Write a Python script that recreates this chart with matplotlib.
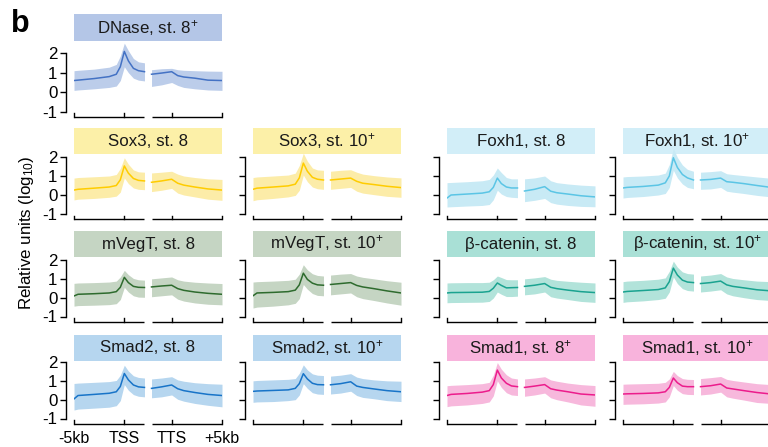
import matplotlib
matplotlib.use('Agg')
import matplotlib.pyplot as plt
from matplotlib.patches import Rectangle

plt.rcParams['font.family'] = ['Liberation Sans', 'DejaVu Sans']
plt.rcParams['axes.unicode_minus'] = False
plt.rcParams['mathtext.default'] = 'regular'

# x positions: left window (-5kb .. TSS .. into gene), right window (gene end .. TTS .. +5kb)
left_x = [-5, -4.6, -3, -1.5, -0.8, -0.4, 0, 0.4, 0.9, 1.4, 2]
right_x = [2.7, 3.7, 4.7, 5.3, 5.9, 7.0, 8.3, 9.7]
x_ticks = [-5, 0, 4.7, 9.7]
x_labels = ['-5kb', 'TSS', 'TTS', '+5kb']
y_ticks = [-1, 0, 1, 2]

titles = ['DNase, st. 8$^{+}$',
          'Sox3, st. 8', 'Sox3, st. 10$^{+}$', 'Foxh1, st. 8', 'Foxh1, st. 10$^{+}$',
          'mVegT, st. 8', 'mVegT, st. 10$^{+}$', 'β-catenin, st. 8', 'β-catenin, st. 10$^{+}$',
          'Smad2, st. 8', 'Smad2, st. 10$^{+}$', 'Smad1, st. 8$^{+}$', 'Smad1, st. 10$^{+}$']
grid = [(0, 0),
        (1, 0), (1, 1), (1, 2), (1, 3),
        (2, 0), (2, 1), (2, 2), (2, 3),
        (3, 0), (3, 1), (3, 2), (3, 3)]

head_colors = ['#b4c6e7',
               '#fcf0a8', '#fcf0a8', '#d2eef8', '#d2eef8',
               '#c5d5c3', '#c5d5c3', '#a9e0d6', '#a9e0d6',
               '#b6d6ef', '#b6d6ef', '#f8b3dc', '#f8b3dc']
band_colors = ['#bccdea',
               '#fcecA8', '#fcecA8', '#c8eaf5', '#c8eaf5',
               '#c5d5c3', '#c5d5c3', '#b2e3da', '#b2e3da',
               '#b6d6ef', '#b6d6ef', '#f7b8dc', '#f7b8dc']
line_colors = ['#4472c4',
               '#ffcc00', '#ffcc00', '#5bc5e5', '#5bc5e5',
               '#2e6b2e', '#2e6b2e', '#1aa390', '#1aa390',
               '#1874c8', '#1874c8', '#ec1c8c', '#ec1c8c']

mid_left = [
    [0.60, 0.62, 0.70, 0.80, 0.92, 1.30, 2.08, 1.60, 1.22, 1.10, 1.05],
    [0.26, 0.30, 0.36, 0.42, 0.50, 0.80, 1.53, 1.15, 0.87, 0.77, 0.74],
    [0.30, 0.36, 0.42, 0.48, 0.57, 0.90, 1.68, 1.25, 0.93, 0.83, 0.79],
    [-0.16, 0.00, 0.05, 0.10, 0.17, 0.40, 0.89, 0.60, 0.42, 0.37, 0.37],
    [0.37, 0.40, 0.45, 0.52, 0.64, 1.00, 1.96, 1.45, 1.08, 0.90, 0.79],
    [0.09, 0.18, 0.21, 0.25, 0.32, 0.55, 1.08, 0.80, 0.60, 0.55, 0.54],
    [0.10, 0.25, 0.28, 0.32, 0.40, 0.68, 1.30, 0.97, 0.77, 0.68, 0.66],
    [0.25, 0.27, 0.28, 0.29, 0.33, 0.50, 0.78, 0.65, 0.52, 0.53, 0.54],
    [0.30, 0.33, 0.38, 0.43, 0.52, 0.85, 1.57, 1.20, 0.93, 0.83, 0.80],
    [0.04, 0.22, 0.28, 0.34, 0.42, 0.70, 1.39, 1.05, 0.78, 0.68, 0.65],
    [0.44, 0.46, 0.49, 0.52, 0.60, 0.85, 1.38, 1.10, 0.87, 0.80, 0.79],
    [0.22, 0.28, 0.33, 0.40, 0.48, 0.80, 1.57, 1.15, 0.87, 0.73, 0.69],
    [0.30, 0.31, 0.33, 0.36, 0.42, 0.65, 1.15, 0.90, 0.72, 0.69, 0.69],
]
hi_left = [
    [1.10, 1.12, 1.18, 1.28, 1.42, 1.85, 2.50, 2.12, 1.72, 1.55, 1.50],
    [0.89, 0.92, 0.96, 1.00, 1.08, 1.40, 1.96, 1.62, 1.32, 1.22, 1.20],
    [0.92, 0.95, 1.00, 1.05, 1.15, 1.55, 2.20, 1.78, 1.42, 1.32, 1.30],
    [0.65, 0.66, 0.70, 0.75, 0.82, 1.05, 1.42, 1.18, 0.92, 0.85, 0.85],
    [0.95, 0.97, 1.00, 1.05, 1.15, 1.60, 2.45, 1.98, 1.58, 1.35, 1.25],
    [0.76, 0.78, 0.80, 0.83, 0.88, 1.10, 1.45, 1.22, 1.02, 0.95, 0.93],
    [0.83, 0.85, 0.88, 0.92, 0.98, 1.25, 1.75, 1.48, 1.27, 1.18, 1.15],
    [0.78, 0.79, 0.80, 0.80, 0.82, 0.95, 1.15, 1.07, 0.96, 0.95, 0.95],
    [0.85, 0.88, 0.92, 0.98, 1.05, 1.40, 1.94, 1.62, 1.37, 1.28, 1.25],
    [0.86, 0.88, 0.92, 0.96, 1.02, 1.30, 1.83, 1.52, 1.27, 1.18, 1.15],
    [1.00, 1.02, 1.05, 1.08, 1.12, 1.40, 1.85, 1.58, 1.37, 1.30, 1.28],
    [0.74, 0.76, 0.80, 0.85, 0.92, 1.30, 1.97, 1.62, 1.32, 1.15, 1.10],
    [0.82, 0.83, 0.85, 0.87, 0.92, 1.10, 1.50, 1.28, 1.12, 1.08, 1.07],
]
lo_left = [
    [0.10, 0.12, 0.18, 0.25, 0.32, 0.60, 1.30, 1.00, 0.72, 0.62, 0.58],
    [-0.26, -0.22, -0.18, -0.12, -0.06, 0.15, 0.90, 0.60, 0.37, 0.30, 0.28],
    [-0.30, -0.25, -0.18, -0.10, -0.02, 0.25, 1.05, 0.70, 0.42, 0.33, 0.30],
    [-0.63, -0.62, -0.58, -0.55, -0.50, -0.25, 0.25, 0.05, -0.08, -0.12, -0.14],
    [-0.16, -0.13, -0.08, 0.00, 0.08, 0.40, 1.30, 0.90, 0.58, 0.40, 0.33],
    [-0.45, -0.42, -0.40, -0.37, -0.32, -0.10, 0.55, 0.30, 0.10, 0.03, 0.02],
    [-0.55, -0.50, -0.45, -0.38, -0.30, -0.05, 0.70, 0.45, 0.22, 0.12, 0.10],
    [-0.27, -0.26, -0.25, -0.24, -0.20, -0.02, 0.30, 0.18, 0.06, 0.06, 0.08],
    [-0.25, -0.22, -0.17, -0.10, -0.03, 0.30, 1.10, 0.75, 0.48, 0.38, 0.35],
    [-0.55, -0.50, -0.45, -0.40, -0.32, -0.05, 0.80, 0.50, 0.27, 0.18, 0.15],
    [-0.14, -0.12, -0.10, -0.05, 0.00, 0.25, 0.85, 0.60, 0.37, 0.30, 0.28],
    [-0.37, -0.33, -0.28, -0.20, -0.12, 0.20, 1.00, 0.65, 0.37, 0.25, 0.22],
    [-0.25, -0.24, -0.22, -0.18, -0.12, 0.15, 0.75, 0.50, 0.32, 0.28, 0.27],
]
mid_right = [
    [0.92, 0.98, 1.05, 0.85, 0.78, 0.72, 0.62, 0.60],
    [0.67, 0.74, 0.83, 0.62, 0.52, 0.42, 0.32, 0.26],
    [0.79, 0.84, 0.89, 0.72, 0.62, 0.55, 0.46, 0.39],
    [0.21, 0.30, 0.44, 0.20, 0.12, 0.05, -0.04, -0.10],
    [0.79, 0.82, 0.89, 0.70, 0.67, 0.60, 0.50, 0.40],
    [0.57, 0.62, 0.66, 0.48, 0.39, 0.30, 0.23, 0.18],
    [0.70, 0.75, 0.80, 0.65, 0.57, 0.48, 0.36, 0.25],
    [0.60, 0.66, 0.75, 0.55, 0.48, 0.40, 0.32, 0.27],
    [0.75, 0.80, 0.88, 0.68, 0.60, 0.52, 0.42, 0.36],
    [0.60, 0.68, 0.78, 0.58, 0.48, 0.38, 0.28, 0.22],
    [0.79, 0.85, 0.95, 0.72, 0.65, 0.57, 0.48, 0.42],
    [0.65, 0.72, 0.80, 0.58, 0.51, 0.42, 0.30, 0.25],
    [0.69, 0.74, 0.83, 0.62, 0.57, 0.48, 0.38, 0.30],
]
hi_right = [
    [1.15, 1.20, 1.22, 1.15, 1.12, 1.10, 1.08, 1.07],
    [1.16, 1.20, 1.25, 1.10, 1.00, 0.92, 0.85, 0.82],
    [1.25, 1.30, 1.33, 1.20, 1.10, 1.02, 0.95, 0.90],
    [0.85, 0.90, 1.00, 0.75, 0.65, 0.58, 0.52, 0.48],
    [1.20, 1.23, 1.28, 1.12, 1.08, 1.02, 0.95, 0.88],
    [1.00, 1.05, 1.10, 0.95, 0.88, 0.82, 0.78, 0.75],
    [1.20, 1.25, 1.28, 1.15, 1.08, 1.00, 0.90, 0.82],
    [1.00, 1.05, 1.12, 0.98, 0.92, 0.87, 0.82, 0.78],
    [1.15, 1.20, 1.28, 1.10, 1.02, 0.95, 0.88, 0.85],
    [1.10, 1.15, 1.22, 1.05, 0.98, 0.90, 0.85, 0.82],
    [1.25, 1.30, 1.38, 1.20, 1.12, 1.05, 1.00, 0.98],
    [1.10, 1.15, 1.22, 1.05, 0.98, 0.88, 0.80, 0.75],
    [1.12, 1.17, 1.23, 1.08, 1.02, 0.94, 0.85, 0.80],
]
lo_right = [
    [0.30, 0.38, 0.50, 0.35, 0.25, 0.18, 0.12, 0.10],
    [0.18, 0.25, 0.35, 0.10, 0.00, -0.10, -0.22, -0.28],
    [0.30, 0.35, 0.40, 0.20, 0.10, 0.02, -0.07, -0.12],
    [-0.35, -0.28, -0.18, -0.40, -0.48, -0.55, -0.60, -0.62],
    [0.30, 0.32, 0.40, 0.20, 0.15, 0.08, -0.02, -0.10],
    [0.05, 0.10, 0.15, -0.08, -0.18, -0.28, -0.35, -0.38],
    [0.15, 0.20, 0.25, 0.05, -0.05, -0.15, -0.28, -0.40],
    [0.15, 0.20, 0.30, 0.05, -0.02, -0.10, -0.20, -0.25],
    [0.30, 0.35, 0.42, 0.20, 0.10, 0.00, -0.10, -0.15],
    [0.10, 0.15, 0.25, 0.02, -0.08, -0.20, -0.30, -0.38],
    [0.30, 0.35, 0.45, 0.22, 0.12, 0.05, -0.05, -0.10],
    [0.18, 0.25, 0.35, 0.10, 0.00, -0.12, -0.28, -0.35],
    [0.25, 0.30, 0.40, 0.15, 0.08, -0.02, -0.15, -0.20],
]

# layout in pixels
W, H = 768, 447
col_left = [74, 253, 447, 623]
data_w = 148
# (pixel of y=2, pixel of y=-1, header top, header bottom) per row
rows = [(53, 112, 14, 41), (157, 214, 128, 154), (260, 316.5, 231, 257), (362, 418.5, 335, 361)]
xmin, xmax = -5, 9.7

fig = plt.figure(figsize=(7.68, 4.47), dpi=100)

for i, title in enumerate(titles):
    r, c = grid[i]
    y2, ym1, htop, hbot = rows[r]
    u = (ym1 - y2) / 3.0
    ytop = 2 + (y2 - htop) / u
    hlow = 2 + (y2 - hbot) / u
    ax = fig.add_axes([col_left[c] / W, 1 - ym1 / H, data_w / W, (ym1 - htop) / H])
    ax.set_xlim(xmin, xmax)
    ax.set_ylim(-1, ytop)

    # header box
    ax.add_patch(Rectangle((xmin, hlow), xmax - xmin, ytop - hlow,
                           facecolor=head_colors[i], lw=0, zorder=0, clip_on=False))
    ax.text((xmin + xmax) / 2, (hlow + ytop) / 2, title, ha='center', va='center',
            fontsize=12.2, color='#1a1a1a', zorder=3)

    ax.fill_between(left_x, lo_left[i], hi_left[i], color=band_colors[i], lw=0, zorder=1)
    ax.plot(left_x, mid_left[i], color=line_colors[i], lw=1.1, zorder=2)
    ax.fill_between(right_x, lo_right[i], hi_right[i], color=band_colors[i], lw=0, zorder=1)
    ax.plot(right_x, mid_right[i], color=line_colors[i], lw=1.1, zorder=2)

    for s in ['top', 'right', 'bottom']:
        ax.spines[s].set_visible(False)
    ax.spines['left'].set_bounds(-1, 2)
    ax.spines['left'].set_position(('outward', 6))
    ax.spines['left'].set_linewidth(1.0)
    ax.set_yticks(y_ticks)
    ax.tick_params(axis='y', length=4, width=1.0, direction='out', labelsize=12.2, pad=2)
    if c != 0:
        ax.set_yticklabels([])

    # split x axis, ticks pointing up
    yb = -1 - 5 / u
    tl = 3.5 / u
    ax.plot([-5, 2], [yb, yb], color='k', lw=1.0, clip_on=False, solid_capstyle='butt')
    ax.plot([2.7, 9.7], [yb, yb], color='k', lw=1.0, clip_on=False, solid_capstyle='butt')
    for xt in x_ticks:
        ax.plot([xt, xt], [yb, yb + tl], color='k', lw=1.0, clip_on=False)

    if r == 3 and c == 0:
        ax.set_xticks(x_ticks, x_labels)
        ax.tick_params(axis='x', length=0, pad=9, labelsize=11.5)
    else:
        ax.set_xticks([])

fig.text(27 / W, 1 - 233 / H, 'Relative units (log$_{10}$)', rotation=90,
         ha='center', va='center', fontsize=12.2)
fig.text(11 / W, 1 - 9 / H, 'b', fontsize=22, fontweight='bold', va='top', ha='left')

fig.savefig('out.png', dpi=100)
